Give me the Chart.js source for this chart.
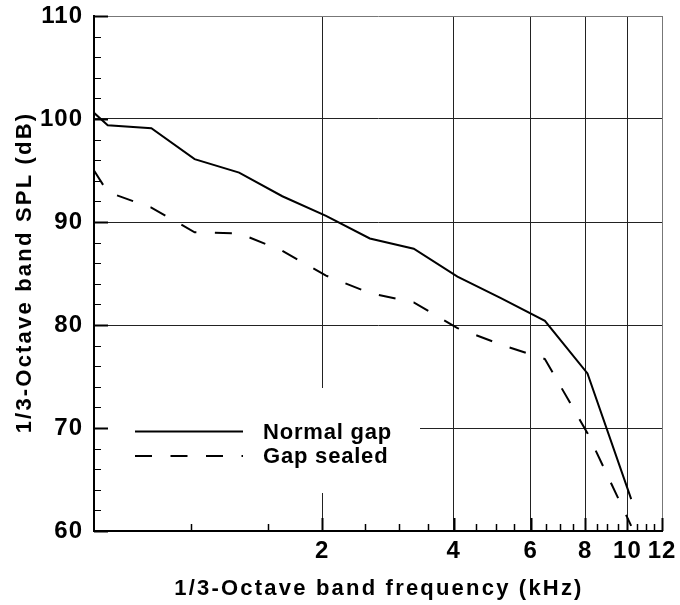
<!DOCTYPE HTML><html>
<head>
  <title>1/3-Octave band SPL</title>
  <meta name="viewport" content="width=device-width, initial-scale=1">
  <style>
  html, body {
    margin: 0;
    background: #fff;
  }
  div.container {
    width: 680px;
    height: 605px;
    position: relative;
  }
  </style>
  <script src="https://cdn.jsdelivr.net/npm/chart.js"></script>
</head>
<body>
  <div class="container">
    <canvas id="spl-chart" width="680" height="605"></canvas>
  </div>
<script>
  // band centre frequencies (kHz) as plotted, and SPL (dB) per series
  var bandFreqs = [0.6, 0.645, 0.812, 1.02, 1.29, 1.62, 2.04, 2.57, 3.24, 4.08, 5.13, 6.47, 8.1, 10.2];
  var normalGap = [100.6, 99.4, 99.1, 96.1, 94.8, 92.5, 90.6, 88.4, 87.4, 84.7, 82.6, 80.4, 75.3, 63.1];
  var gapSealed = [95.0, 92.9, 91.4, 89.0, 88.9, 87.2, 84.8, 83.1, 82.2, 79.7, 78.1, 76.7, 69.5, 60.5];
  var seriesNames = ['Normal gap', 'Gap sealed'];
  var xTitle = '1/3-Octave band frequency (kHz)';
  var yTitle = '1/3-Octave band SPL (dB)';

  // axis ticks
  var xTicks = [1, 1.5, 2, 2.5, 3, 3.5, 4, 4.5, 5, 5.5, 6, 6.5, 7, 7.5, 8, 8.5, 9, 9.5, 10, 10.5, 11, 11.5, 12];
  var xLabels = [2, 4, 6, 8, 10, 12];
  var xGrid = [2, 4, 6, 8, 10];
  var yTicks = [60, 62, 64, 66, 68, 70, 72, 74, 76, 78, 80, 82, 84, 86, 88, 90, 92, 94, 96, 98, 100, 102, 104, 106, 108, 110];
  var yLabels = [60, 70, 80, 90, 100, 110];

  var fontFamily = '"Liberation Sans", Arial, Helvetica, sans-serif';
  Chart.defaults.font.family = fontFamily;
  Chart.defaults.color = '#000';

  function toPoints(ys) {
    return bandFreqs.map(function (f, i) { return {x: f, y: ys[i]}; });
  }

  // the original lettering is a bit wider than Arial, so space it out
  var spacing = {
    id: 'spacing',
    beforeDraw: function (chart) {
      chart.ctx.letterSpacing = '1px';
    }
  };

  // short inward tick marks on the left and bottom axes
  var tickMarks = {
    id: 'tickMarks',
    afterDatasetsDraw: function (chart) {
      var ctx = chart.ctx, a = chart.chartArea;
      var xs = chart.scales.x, ys = chart.scales.y;
      ctx.save();
      ctx.strokeStyle = '#000';
      xTicks.forEach(function (v) {
        var px = Math.round(xs.getPixelForValue(v)) + 0.5;
        var major = xLabels.indexOf(v) >= 0;
        ctx.lineWidth = major ? 2 : 1.5;
        ctx.beginPath();
        ctx.moveTo(px, a.bottom);
        ctx.lineTo(px, a.bottom - (major ? 13 : 7));
        ctx.stroke();
      });
      yTicks.forEach(function (v) {
        var py = Math.round(ys.getPixelForValue(v)) + 0.5;
        var major = yLabels.indexOf(v) >= 0;
        ctx.lineWidth = major ? 2 : 1;
        ctx.beginPath();
        ctx.moveTo(a.left, py);
        ctx.lineTo(a.left + (major ? 14 : 7), py);
        ctx.stroke();
      });
      ctx.restore();
    }
  };

  // legend box sitting inside the plot, lower left
  var boxLegend = {
    id: 'boxLegend',
    afterDatasetsDraw: function (chart) {
      var ctx = chart.ctx, a = chart.chartArea;
      var bx = a.left + 14, by = 388;
      ctx.save();
      ctx.fillStyle = '#fff';
      ctx.fillRect(bx, by, 312, 105);
      chart.data.datasets.forEach(function (ds, i) {
        var ly = 431.5 + i * 24.5;
        ctx.strokeStyle = ds.borderColor;
        ctx.lineWidth = ds.borderWidth;
        ctx.setLineDash(ds.borderDash || []);
        ctx.beginPath();
        ctx.moveTo(135, ly);
        ctx.lineTo(243, ly);
        ctx.stroke();
        ctx.setLineDash([]);
        ctx.fillStyle = '#000';
        ctx.font = 'bold 22px ' + fontFamily;
        ctx.letterSpacing = '0.8px';
        ctx.textBaseline = 'middle';
        ctx.textAlign = 'left';
        ctx.fillText(ds.label, 263, ly + 1);
      });
      ctx.restore();
    }
  };

  // axis titles, drawn by hand so they can be letter-spaced
  var axisTitles = {
    id: 'axisTitles',
    afterDraw: function (chart) {
      var ctx = chart.ctx, a = chart.chartArea;
      ctx.save();
      ctx.fillStyle = '#000';
      ctx.font = 'bold 22px ' + fontFamily;
      ctx.letterSpacing = '2.2px';
      ctx.textAlign = 'center';
      ctx.textBaseline = 'middle';
      ctx.fillText(xTitle, (a.left + a.right) / 2 + 1, 589);
      ctx.translate(25, (a.top + a.bottom) / 2);
      ctx.rotate(-Math.PI / 2);
      ctx.fillText(yTitle, 1, 0);
      ctx.restore();
    }
  };

  var config = {
    type: 'line',
    data: {
      datasets: [{
        label: seriesNames[0],
        data: toPoints(normalGap),
        borderColor: '#000',
        borderWidth: 2,
        pointRadius: 0,
        tension: 0
      }, {
        label: seriesNames[1],
        data: toPoints(gapSealed),
        borderColor: '#000',
        borderWidth: 2,
        borderDash: [17, 18.5],
        pointRadius: 0,
        tension: 0
      }]
    },
    options: {
      animation: false,
      responsive: false,
      devicePixelRatio: 1,
      layout: {padding: {left: 0, top: 16, right: 18, bottom: 0}},
      plugins: {legend: {display: false}, tooltip: {enabled: false}},
      scales: {
        x: {
          type: 'logarithmic',
          min: 0.6,
          max: 12,
          afterBuildTicks: function (scale) {
            scale.ticks = xTicks.map(function (v) { return {value: v}; });
          },
          afterFit: function (scale) {
            scale.height = 74;
            scale.paddingLeft = 0;
            scale.paddingRight = 0;
          },
          ticks: {
            autoSkip: false,
            maxRotation: 0,
            padding: 6,
            font: {size: 24, weight: 'bold'},
            callback: function (v) { return xLabels.indexOf(v) >= 0 ? String(v) : ''; }
          },
          grid: {
            drawTicks: false,
            lineWidth: 1,
            color: function (c) {
              var v = c.tick.value;
              if (xGrid.indexOf(v) >= 0) return '#222';
              if (v === 12) return '#777';
              return 'rgba(0,0,0,0)';
            }
          },
          border: {display: true, color: '#000', width: 2}
        },
        y: {
          type: 'linear',
          min: 60,
          max: 110,
          afterBuildTicks: function (scale) {
            scale.ticks = yTicks.map(function (v) { return {value: v}; });
          },
          afterFit: function (scale) {
            scale.width = 94;
            scale.paddingTop = 0;
            scale.paddingBottom = 0;
          },
          ticks: {
            autoSkip: false,
            padding: 11,
            font: {size: 24, weight: 'bold'},
            callback: function (v) { return yLabels.indexOf(v) >= 0 ? String(v) : ''; }
          },
          grid: {
            drawTicks: false,
            lineWidth: 1,
            color: function (c) {
              var v = c.tick.value;
              if (v === 110) return '#777';
              if (yLabels.indexOf(v) >= 0) return '#222';
              return 'rgba(0,0,0,0)';
            }
          },
          border: {display: true, color: '#000', width: 2}
        }
      }
    },
    plugins: [spacing, tickMarks, boxLegend, axisTitles]
  };

  var splChart = new Chart(document.getElementById('spl-chart'), config);
</script>
</body>
</html>
